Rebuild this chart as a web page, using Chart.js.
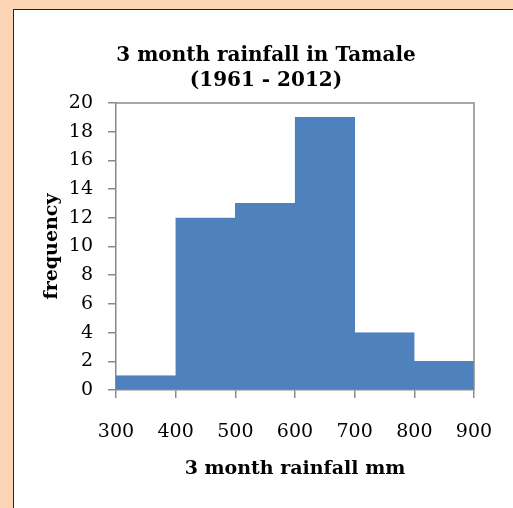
<!DOCTYPE html>
<html>
<head>
<meta charset="utf-8">
<script src="https://cdn.jsdelivr.net/npm/chart.js@4"></script>
<style>
  html, body { margin:0; padding:0; }
  body { width:513px; height:508px; background:#fcd5b4; position:relative; overflow:hidden; }
  #frame { position:absolute; left:13px; top:9px; width:520px; height:520px; background:#fff; border-left:1.5px solid #222; border-top:1.5px solid #222; }
  #wrap { position:absolute; left:0; top:0; width:513px; height:508px; }
</style>
</head>
<body>
<div id="frame"></div>
<div id="wrap"><canvas id="hist"></canvas></div>
<script>
// histogram of 3 month rainfall, Tamale
const binEdges    = [300, 400, 500, 600, 700, 800, 900];
const frequencies = [1, 12, 13, 19, 4, 2];
const titleLines  = ['3 month rainfall in Tamale', '(1961 - 2012)'];
const xTitle = '3 month rainfall mm';
const yTitle = 'frequency';

const SERIF = '"DejaVu Serif", serif';
const AXIS = '#8a8a8a';

// draws the two-line title and the top/right border of the plot area
const frameBits = {
  id: 'frameBits',
  afterDraw(chart) {
    const { ctx, chartArea: a } = chart;
    ctx.save();
    ctx.strokeStyle = AXIS;
    ctx.lineWidth = 1.5;
    ctx.beginPath();
    ctx.moveTo(a.left, a.top);
    ctx.lineTo(a.right, a.top);
    ctx.lineTo(a.right, a.bottom);
    ctx.stroke();
    ctx.fillStyle = '#000';
    ctx.font = 'bold 20px ' + SERIF;
    ctx.textAlign = 'center';
    ctx.textBaseline = 'middle';
    titleLines.forEach((s, i) => ctx.fillText(s, 266, 56 + i * 25));
    ctx.restore();
  }
};

new Chart(document.getElementById('hist'), {
  type: 'bar',
  data: {
    datasets: [{
      data: frequencies.map((f, i) => ({ x: (binEdges[i] + binEdges[i + 1]) / 2, y: f })),
      backgroundColor: '#4f81bd',
      borderColor: '#4f81bd',
      borderWidth: 1,
      borderSkipped: false,
      barPercentage: 1,
      categoryPercentage: 1,
    }]
  },
  options: {
    responsive: true,
    maintainAspectRatio: false,
    animation: false,
    layout: { padding: { left: 0, right: 39, top: 103, bottom: 0 } },
    plugins: { legend: { display: false }, tooltip: { enabled: false } },
    scales: {
      x: {
        type: 'linear',
        offset: false,
        min: binEdges[0],
        max: binEdges[binEdges.length - 1],
        afterBuildTicks: s => { s.ticks = binEdges.map(v => ({ value: v })); },
        afterFit: s => { s.height = 118; s.paddingLeft = 0; s.paddingRight = 0; },
        grid: { drawOnChartArea: false, drawTicks: true, tickLength: 8, color: AXIS, lineWidth: 1.5, offset: false },
        border: { color: AXIS, width: 1.5 },
        ticks: { color: '#000', font: { family: SERIF, size: 19 }, padding: 23, maxRotation: 0 },
        title: { display: true, text: xTitle, color: '#000', font: { family: SERIF, size: 19, weight: 'bold' }, padding: { top: 0, bottom: 28 } }
      },
      y: {
        min: 0,
        max: 20,
        afterFit: s => { s.width = 116; },
        grid: { drawOnChartArea: false, drawTicks: true, tickLength: 8, color: AXIS, lineWidth: 1.5 },
        border: { color: AXIS, width: 1.5 },
        ticks: { stepSize: 2, color: '#000', font: { family: SERIF, size: 19 }, padding: 15 },
        title: { display: true, text: yTitle, color: '#000', font: { family: SERIF, size: 19, weight: 'bold' }, padding: { top: 41, bottom: 0 } }
      }
    }
  },
  plugins: [frameBits]
});
</script>
</body>
</html>
